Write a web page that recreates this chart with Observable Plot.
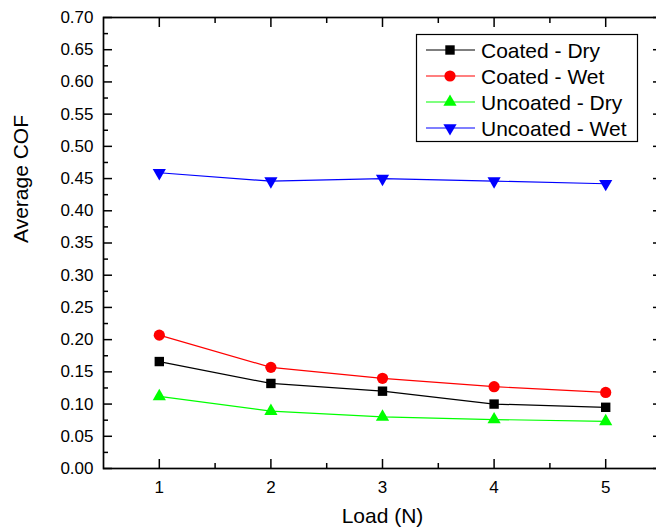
<!DOCTYPE html>
<html><head><meta charset="utf-8">
<script src="https://cdn.jsdelivr.net/npm/d3@7"></script>
<script src="https://cdn.jsdelivr.net/npm/@observablehq/plot@0.6"></script>
<style>
html,body{margin:0;padding:0;background:#fff;overflow:hidden;width:656px;height:529px}
#wrap{position:relative;width:656px;height:529px;overflow:hidden}
#wrap svg{display:block;max-width:none !important}
#legend{position:absolute;left:0;top:0;pointer-events:none}
</style></head><body><div id="wrap"></div>
<script>
// ---- data ----
const loads = [1, 2, 3, 4, 5];
const coatedDry = [0.166, 0.132, 0.120, 0.100, 0.095];
const coatedWet = [0.207, 0.157, 0.140, 0.127, 0.118];
const uncoatedDry = [0.112, 0.089, 0.080, 0.076, 0.073];
const uncoatedWet = [0.459, 0.446, 0.450, 0.446, 0.442];
const seriesNames = ["Coated - Dry", "Coated - Wet", "Uncoated - Dry", "Uncoated - Wet"];
const seriesColors = ["#000000", "#ff0000", "#00ff00", "#0000ff"];
const xTicks = [1, 2, 3, 4, 5];
const xMinorTicks = [1.5, 2.5, 3.5, 4.5];
const yTicks = [0, 0.05, 0.10, 0.15, 0.20, 0.25, 0.30, 0.35, 0.40, 0.45, 0.50, 0.55, 0.60, 0.65, 0.70];
const yMinorTicks = [0.025, 0.075, 0.125, 0.175, 0.225, 0.275, 0.325, 0.375, 0.425, 0.475, 0.525, 0.575, 0.625, 0.675];
const xLabel = "Load (N)";
const yLabel = "Average COF";

// ---- symbols ----
const triangleDown = {
  draw(context, size) {
    const a = Math.sqrt(size / (Math.sqrt(3) / 4));
    const h = a * Math.sqrt(3) / 2;
    context.moveTo(-a / 2, -h / 3);
    context.lineTo(a / 2, -h / 3);
    context.lineTo(0, 2 * h / 3);
    context.closePath();
  }
};
const seriesValues = [coatedDry, coatedWet, uncoatedDry, uncoatedWet];
const seriesSymbols = [d3.symbolSquare, d3.symbolCircle, d3.symbolTriangle, triangleDown];
const seriesR = [5.3, 5.6, 4.9, 4.9];

const series = seriesNames.map((name, i) => ({
  name, color: seriesColors[i], symbol: seriesSymbols[i], r: seriesR[i],
  data: loads.map((x, j) => ({x, y: seriesValues[i][j]}))
}));

const font = "'Liberation Sans', Arial, Helvetica, sans-serif";

const marks = [
  Plot.axisX(xTicks, {anchor: "bottom", tickSize: -9, tickPadding: 21, strokeWidth: 1.5, fontSize: 17, label: null, tickFormat: d => String(d)}),
  Plot.axisX(xMinorTicks, {anchor: "bottom", tickSize: -5, strokeWidth: 1.5, label: null, fill: "none"}),
  Plot.axisX(xTicks, {anchor: "top", tickSize: -9, strokeWidth: 1.5, label: null, fill: "none"}),
  Plot.axisX(xMinorTicks, {anchor: "top", tickSize: -5, strokeWidth: 1.5, label: null, fill: "none"}),
  Plot.axisY(yTicks, {anchor: "left", tickSize: -9, tickPadding: 19, strokeWidth: 1.5, fontSize: 17, label: null, tickFormat: d => d.toFixed(2)}),
  Plot.axisY(yMinorTicks, {anchor: "left", tickSize: -5, strokeWidth: 1.5, label: null, fill: "none"}),
  Plot.axisY(yTicks, {anchor: "right", tickSize: -9, strokeWidth: 1.5, label: null, fill: "none"}),
  Plot.axisY(yMinorTicks, {anchor: "right", tickSize: -5, strokeWidth: 1.5, label: null, fill: "none"}),
  Plot.frame({stroke: "#000", strokeWidth: 1.7}),
  Plot.text([yLabel], {frameAnchor: "left", text: d => d, rotate: -90, dx: -82, fontSize: 21, fill: "#000"}),
  Plot.text([xLabel], {frameAnchor: "bottom", text: d => d, dy: 54, fontSize: 21, fill: "#000"})
];
for (const s of series) {
  marks.push(Plot.line(s.data, {x: "x", y: "y", stroke: s.color, strokeWidth: 1.2}));
  marks.push(Plot.dot(s.data, {x: "x", y: "y", symbol: s.symbol, r: s.r, fill: s.color, stroke: "none"}));
}

const chart = Plot.plot({
  width: 664, height: 529,
  marginLeft: 103, marginRight: 3, marginTop: 17, marginBottom: 61,
  x: {domain: [0.5, 5.5], axis: null},
  y: {domain: [0, 0.7], axis: null},
  style: {fontFamily: font, fontSize: "17px", color: "#000", background: "#fff", overflow: "visible"},
  marks
});
chart.style.maxWidth = "none";
chart.style.width = "664px";
chart.style.height = "529px";
document.getElementById("wrap").appendChild(chart);

// ---- legend ----
const lg = d3.select("#wrap").append("svg").attr("id", "legend").attr("width", 656).attr("height", 529);
const box = {x: 416, y: 34, w: 221, h: 107};
lg.append("rect").attr("x", box.x + 0.5).attr("y", box.y + 0.5).attr("width", box.w).attr("height", box.h)
  .attr("fill", "#fff").attr("stroke", "#000").attr("stroke-width", 1.2);
series.forEach((s, i) => {
  const cy = box.y + 16 + i * 26;
  const g = lg.append("g");
  g.append("line").attr("x1", box.x + 10).attr("x2", box.x + 59).attr("y1", cy).attr("y2", cy)
    .attr("stroke", s.color).attr("stroke-width", 1.2);
  g.append("path").attr("transform", `translate(${box.x + 34},${cy})`)
    .attr("d", d3.symbol().type(s.symbol).size(s.r * s.r * Math.PI)()).attr("fill", s.color);
  g.append("text").attr("x", box.x + 65).attr("y", cy + 7.5).attr("font-family", font).attr("font-size", 21)
    .attr("fill", "#000").text(s.name);
});
</script>
</body></html>
